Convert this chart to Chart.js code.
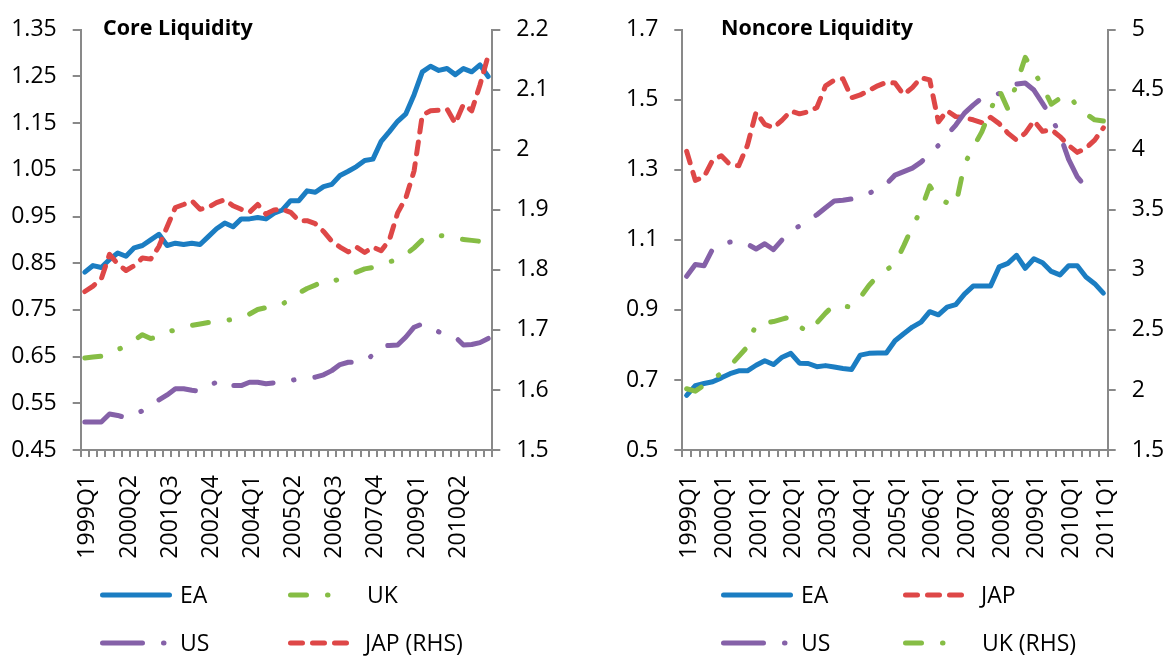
<!DOCTYPE html>
<html>
<head>
<meta charset="utf-8">
<script src="https://cdn.jsdelivr.net/npm/chart.js@4.4.1/dist/chart.umd.min.js"></script>
<style>
  html, body { margin: 0; background: #fff; }
  #wrap { position: relative; width: 1175px; height: 657px; }
  canvas { position: absolute; top: 0; }
  #core { left: 0; }
  #noncore { left: 585px; }
</style>
</head>
<body>
<div id="wrap">
  <canvas id="core" width="585" height="657"></canvas>
  <canvas id="noncore" width="590" height="657"></canvas>
</div>
<script>
// quarters 1999Q1 .. 2011Q2
const coreQ = [
  "1999Q1","1999Q2","1999Q3","1999Q4","2000Q1","2000Q2","2000Q3","2000Q4",
  "2001Q1","2001Q2","2001Q3","2001Q4","2002Q1","2002Q2","2002Q3","2002Q4",
  "2003Q1","2003Q2","2003Q3","2003Q4","2004Q1","2004Q2","2004Q3","2004Q4",
  "2005Q1","2005Q2","2005Q3","2005Q4","2006Q1","2006Q2","2006Q3","2006Q4",
  "2007Q1","2007Q2","2007Q3","2007Q4","2008Q1","2008Q2","2008Q3","2008Q4",
  "2009Q1","2009Q2","2009Q3","2009Q4","2010Q1","2010Q2","2010Q3","2010Q4",
  "2011Q1","2011Q2",
];
// noncore stops at 2011Q1
const ncQ = coreQ.slice(0, 49);

// core liquidity
const coreEA = [
  0.831, 0.845, 0.841, 0.858, 0.872, 0.865, 0.883, 0.888, 0.900, 0.912,
  0.888, 0.893, 0.890, 0.893, 0.890, 0.907, 0.924, 0.936, 0.928, 0.945,
  0.945, 0.948, 0.945, 0.957, 0.964, 0.984, 0.984, 1.005, 1.002, 1.014,
  1.019, 1.038, 1.047, 1.057, 1.070, 1.073, 1.111, 1.132, 1.154, 1.170,
  1.211, 1.260, 1.272, 1.263, 1.267, 1.254, 1.267, 1.260, 1.275, 1.250,
];
const coreUK = [
  0.647, 0.649, 0.651, 0.654, 0.665, 0.673, 0.685, 0.697, 0.689, 0.692,
  0.703, 0.707, 0.713, 0.717, 0.720, 0.723, 0.723, 0.727, 0.730, 0.734,
  0.741, 0.751, 0.755, 0.755, 0.762, 0.775, 0.786, 0.796, 0.803, 0.813,
  0.810, 0.817, 0.824, 0.831, 0.838, 0.841, 0.848, 0.853, 0.858, 0.869,
  0.883, 0.900, 0.910, 0.910, 0.907, 0.903, 0.901, 0.899, 0.897, 0.895,
];
const coreUS = [
  0.510, 0.510, 0.510, 0.527, 0.524, 0.519, 0.526, 0.534, 0.547, 0.557,
  0.568, 0.581, 0.581, 0.578, 0.576, 0.588, 0.595, 0.599, 0.588, 0.588,
  0.595, 0.595, 0.592, 0.594, 0.593, 0.599, 0.602, 0.604, 0.606, 0.611,
  0.620, 0.633, 0.638, 0.638, 0.640, 0.654, 0.672, 0.674, 0.675, 0.692,
  0.713, 0.720, 0.713, 0.703, 0.696, 0.692, 0.675, 0.676, 0.680, 0.689,
];
const coreJAP = [
  1.764, 1.773, 1.785, 1.826, 1.810, 1.799, 1.807, 1.820, 1.818, 1.839,
  1.872, 1.904, 1.909, 1.915, 1.901, 1.904, 1.912, 1.917, 1.907, 1.901,
  1.896, 1.909, 1.893, 1.900, 1.901, 1.896, 1.882, 1.882, 1.877, 1.864,
  1.848, 1.838, 1.830, 1.838, 1.829, 1.838, 1.832, 1.850, 1.895, 1.920,
  1.965, 2.058, 2.065, 2.066, 2.068, 2.044, 2.076, 2.065, 2.108, 2.157,
];

// noncore liquidity
const ncEA = [
  0.656, 0.684, 0.690, 0.695, 0.706, 0.718, 0.726, 0.726, 0.742, 0.755,
  0.744, 0.765, 0.776, 0.748, 0.747, 0.738, 0.741, 0.737, 0.733, 0.730,
  0.771, 0.776, 0.777, 0.777, 0.812, 0.832, 0.851, 0.865, 0.895, 0.886,
  0.908, 0.915, 0.945, 0.968, 0.968, 0.968, 1.023, 1.033, 1.056, 1.019,
  1.046, 1.035, 1.010, 1.000, 1.026, 1.026, 0.994, 0.975, 0.948,
];
const ncJAP = [
  1.353, 1.270, 1.280, 1.328, 1.340, 1.315, 1.312, 1.370, 1.465, 1.430,
  1.420, 1.442, 1.468, 1.460, 1.466, 1.478, 1.540, 1.556, 1.560, 1.506,
  1.514, 1.527, 1.540, 1.550, 1.548, 1.515, 1.535, 1.563, 1.557, 1.437,
  1.469, 1.452, 1.449, 1.443, 1.435, 1.450, 1.432, 1.405, 1.385, 1.405,
  1.440, 1.410, 1.415, 1.395, 1.370, 1.350, 1.362, 1.385, 1.420,
];
const ncUS = [
  0.996, 1.030, 1.026, 1.074, 1.088, 1.094, 1.096, 1.088, 1.074, 1.089,
  1.072, 1.100, 1.125, 1.140, 1.155, 1.172, 1.192, 1.211, 1.213, 1.217,
  1.225, 1.233, 1.245, 1.260, 1.285, 1.295, 1.305, 1.322, 1.345, 1.370,
  1.400, 1.428, 1.462, 1.485, 1.505, 1.510, 1.518, 1.525, 1.545, 1.548,
  1.528, 1.490, 1.450, 1.400, 1.330, 1.280, 1.250,
];
const ncUK = [
  2.01, 1.99, 2.04, 2.09, 2.14, 2.20, 2.28, 2.36, 2.55, 2.56,
  2.57, 2.59, 2.61, 2.53, 2.48, 2.56, 2.64, 2.71, 2.70, 2.69,
  2.77, 2.87, 2.95, 3.00, 3.05, 3.20, 3.36, 3.50, 3.70, 3.59,
  3.56, 3.54, 3.88, 4.02, 4.15, 4.33, 4.50, 4.34, 4.55, 4.77,
  4.65, 4.53, 4.38, 4.43, 4.46, 4.36, 4.30, 4.25, 4.24,
];

const C = { ea: "#1b7dc2", uk: "#86bd45", us: "#8561a8", jap: "#de4747", axis: "#898989" };
const DASH = { jap: [12, 10], uk: [16, 21, 0.5, 21], us: [40, 21, 0.5, 21] };
const FONT = "'Open Sans'";
const tickFont = { family: FONT, size: 23 };

const line = (label, data, color, dash, axis, order) => ({
  label, data, yAxisID: axis, order,
  borderColor: color, backgroundColor: color, borderWidth: 5,
  borderDash: dash || [], borderCapStyle: "round", borderJoinStyle: "round",
  pointRadius: 0, tension: 0, fill: false,
});

// title + legend drawn at fixed spots
const deco = {
  id: "deco",
  afterDraw(ch, args, o) {
    const c = ch.ctx;
    c.save();
    c.fillStyle = "#000";
    c.font = `bold 21.5px ${FONT}`;
    c.textBaseline = "alphabetic";
    c.fillText(o.title, o.tx, 35);
    c.font = `23px ${FONT}`;
    c.textBaseline = "middle";
    o.items.forEach((it) => {
      const ds = ch.data.datasets[it.ds];
      c.strokeStyle = ds.borderColor;
      c.lineWidth = ds.borderWidth;
      c.lineCap = "round";
      c.setLineDash(ds.borderDash);
      c.beginPath();
      c.moveTo(it.x, it.y);
      c.lineTo(it.x + it.len, it.y);
      c.stroke();
      c.setLineDash([]);
      c.fillText(ds.label, it.tx, it.y + 1);
    });
    c.restore();
  },
};

function yAx(pos, min, max, step, w, fmt) {
  return {
    position: pos, min, max,
    ticks: { stepSize: step, color: "#000", font: tickFont, padding: 16, callback: fmt },
    grid: { drawOnChartArea: false, tickLength: 8, color: C.axis, lineWidth: 2 },
    border: { color: C.axis, width: 2 },
    afterFit: (s) => (s.width = w),
  };
}

function xAx(every) {
  return {
    offset: true,
    ticks: {
      autoSkip: false, minRotation: 90, maxRotation: 90, color: "#000", font: tickFont,
      padding: 18, labelOffset: 3,
      callback: function (v, i) { return i % every === 0 ? this.getLabelForValue(v) : ""; },
    },
    grid: { offset: true, drawOnChartArea: false, tickLength: 7, color: C.axis, lineWidth: 2 },
    border: { color: C.axis, width: 2 },
    afterFit: (s) => (s.height = 207),
  };
}

function opts(scales, deco) {
  return {
    responsive: false, animation: false,
    layout: { padding: { top: 17, left: 0, right: 0, bottom: 0 } },
    plugins: { legend: { display: false }, tooltip: { enabled: false }, deco },
    scales,
  };
}

function draw() {
  new Chart(document.getElementById("core"), {
    type: "line",
    data: {
      labels: coreQ,
      datasets: [
        line("EA", coreEA, C.ea, null, "y", 4),
        line("UK", coreUK, C.uk, DASH.uk, "y", 3),
        line("US", coreUS, C.us, DASH.us, "y", 2),
        line("JAP (RHS)", coreJAP, C.jap, DASH.jap, "y2", 1),
      ],
    },
    options: opts(
      {
        x: xAx(5),
        y: yAx("left", 0.45, 1.35, 0.1, 80.7, (v) => v.toFixed(2)),
        y2: yAx("right", 1.5, 2.2, 0.1, 92.7, (v) => String(+v.toFixed(1))),
      },
      {
        title: "Core Liquidity", tx: 103,
        items: [
          { ds: 0, x: 102.5, len: 67, y: 595, tx: 180 },
          { ds: 1, x: 290.5, len: 40, y: 595, tx: 367 },
          { ds: 2, x: 102.5, len: 64, y: 643, tx: 180 },
          { ds: 3, x: 290.5, len: 60, y: 643, tx: 365 },
        ],
      }
    ),
    plugins: [deco],
  });

  new Chart(document.getElementById("noncore"), {
    type: "line",
    data: {
      labels: ncQ,
      datasets: [
        line("EA", ncEA, C.ea, null, "y", 4),
        line("JAP", ncJAP, C.jap, DASH.jap, "y", 3),
        line("US", ncUS, C.us, DASH.us, "y", 2),
        line("UK (RHS)", ncUK, C.uk, DASH.uk, "y2", 1),
      ],
    },
    options: opts(
      {
        x: xAx(4),
        y: yAx("left", 0.5, 1.7, 0.2, 97.3, (v) => v.toFixed(1)),
        y2: yAx("right", 1.5, 5, 0.5, 67.3, (v) => String(+v.toFixed(1))),
      },
      {
        title: "Noncore Liquidity", tx: 136,
        items: [
          { ds: 0, x: 138.5, len: 67, y: 595, tx: 216 },
          { ds: 1, x: 320.5, len: 60, y: 595, tx: 396 },
          { ds: 2, x: 138.5, len: 64, y: 643, tx: 216 },
          { ds: 3, x: 320.5, len: 40, y: 643, tx: 397 },
        ],
      }
    ),
    plugins: [deco],
  });
}

Promise.all([
  document.fonts.load(`23px ${FONT}`),
  document.fonts.load(`bold 21.5px ${FONT}`),
]).then(draw, draw);
</script>
</body>
</html>
